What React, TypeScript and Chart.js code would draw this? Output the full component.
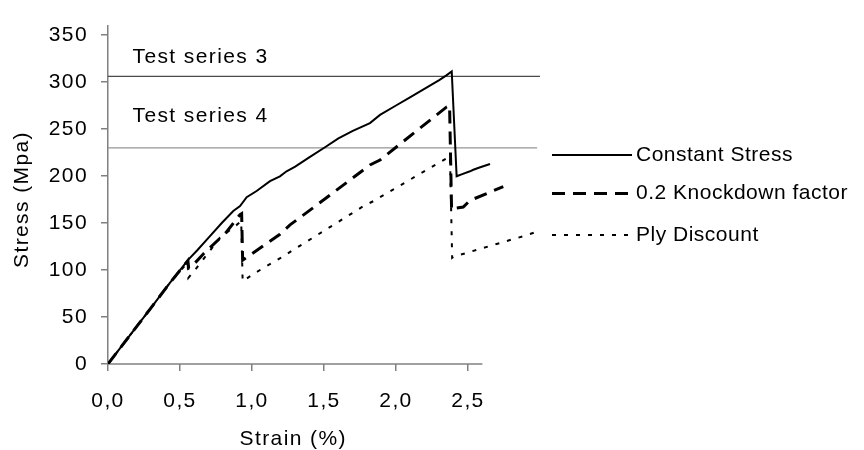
import React, { useEffect, useRef } from "react";
import { Chart, registerables } from "chart.js";

Chart.register(...registerables);

const FONT = "'Liberation Sans', Arial, sans-serif";
const FONT_SIZE = 21;
const SPACING = "1.4px";
const LEGEND_SPACING = "0.5px";
const AXIS_COLOR = "#808080";

// ---- data ----
const CONST_STRAIN = [0, 0.05, 0.1, 0.2, 0.3, 0.431, 0.558, 0.62, 0.708, 0.79, 0.87, 0.917, 0.963, 1.032, 1.125, 1.194, 1.24, 1.3, 1.4, 1.507, 1.6, 1.7, 1.819, 1.889, 2.0, 2.1, 2.2, 2.3, 2.35, 2.387, 2.421, 2.46, 2.514, 2.537, 2.58, 2.653];
const CONST_STRESS = [0, 10, 20, 40, 60, 86.5, 111, 121, 136, 150, 162.7, 168, 177.4, 184, 194.6, 199.7, 205, 210, 220, 230.6, 240, 248, 256.3, 265, 275, 284, 293, 302, 307, 311.2, 199.7, 202, 205, 206.6, 209, 212.8];

const KD_STRAIN = [0, 0.1, 0.2, 0.3, 0.431, 0.555, 0.56, 0.581, 0.662, 0.819, 0.917, 0.928, 0.935, 1.194, 1.264, 1.449, 1.819, 1.889, 2.352, 2.372, 2.386, 2.398, 2.467, 2.514, 2.745];
const KD_STRESS = [0, 20, 40, 60, 86.5, 110, 102, 103.7, 117, 139.7, 159, 160, 110.5, 138, 148, 169, 211.7, 217, 273.5, 275, 164, 165.4, 167, 174, 188.7];

const PLY_STRAIN = [0, 0.1, 0.2, 0.3, 0.431, 0.553, 0.558, 0.604, 0.778, 0.894, 0.925, 0.935, 1.02, 1.229, 1.252, 1.785, 1.854, 1.889, 2.375, 2.39, 2.398, 2.699, 2.907, 2.977];
const PLY_STRESS = [0, 20, 40, 60, 86.5, 108, 91.6, 100, 134.5, 148, 152, 88, 96.8, 115.6, 118, 169, 174, 177.4, 221, 113, 114, 127.7, 137, 140.7];

const SERIES_LABELS = ["Constant Stress", "0.2 Knockdown factor", "Ply Discount"];

const TEST_LEVELS = [306, 230];
const TEST_LABELS = ["Test series 3", "Test series 4"];
const TEST_LABEL_X = [0.17, 0.17];
const TEST_LABEL_Y = [326.4, 263.3];
const TEST_END = [3.0, 2.98];

const X_TICKS = [0, 0.5, 1.0, 1.5, 2.0, 2.5];
const X_TICK_LABELS = ["0,0", "0,5", "1,0", "1,5", "2,0", "2,5"];
const Y_TICKS = [0, 50, 100, 150, 200, 250, 300, 350];

const X_MIN = 0;
const X_MAX = 3.0;
const X_AXIS_END = 2.6;
const Y_MIN = 0;
const Y_MAX = 360;
const X_TITLE = "Strain (%)";
const Y_TITLE = "Stress (Mpa)";

const toPts = (xs: number[], ys: number[]) => xs.map((x, i) => ({ x, y: ys[i] }));

const decor = {
  id: "decor",
  beforeDraw(chart: any) {
    chart.ctx.letterSpacing = SPACING;
  },
  beforeDatasetsDraw(chart: any) {
    const { ctx, chartArea, scales } = chart;
    const x = scales.x;
    ctx.save();
    ctx.strokeStyle = AXIS_COLOR;
    ctx.lineWidth = 1.5;
    ctx.beginPath();
    ctx.moveTo(chartArea.left, chartArea.bottom);
    ctx.lineTo(x.getPixelForValue(X_AXIS_END), chartArea.bottom);
    ctx.stroke();
    ctx.restore();
  },
  afterDraw(chart: any) {
    const { ctx, chartArea, scales } = chart;
    const x = scales.x;
    const y = scales.y;
    ctx.save();
    ctx.letterSpacing = SPACING;
    ctx.font = `${FONT_SIZE}px ${FONT}`;
    ctx.fillStyle = "#000";
    ctx.textBaseline = "middle";
    ctx.textAlign = "left";
    TEST_LABELS.forEach((t, i) => {
      ctx.fillText(t, x.getPixelForValue(TEST_LABEL_X[i]), y.getPixelForValue(TEST_LABEL_Y[i]));
    });
    // axis titles
    ctx.textAlign = "center";
    ctx.fillText(X_TITLE, x.getPixelForValue(X_AXIS_END / 2) - 2, chartArea.bottom + 75);
    ctx.save();
    ctx.translate(22, y.getPixelForValue(175));
    ctx.rotate(-Math.PI / 2);
    ctx.fillText(Y_TITLE, 0, 0);
    ctx.restore();
    // legend
    ctx.letterSpacing = LEGEND_SPACING;
    const rows = [155, 193.5, 235];
    const lx0 = chartArea.right + 12;
    const lx1 = chartArea.right + 92;
    ctx.textAlign = "left";
    for (let i = 0; i < 3; i++) {
      const ds = chart.data.datasets[i];
      ctx.save();
      ctx.strokeStyle = ds.borderColor;
      ctx.lineWidth = ds.borderWidth;
      ctx.setLineDash(ds.borderDash || []);
      ctx.beginPath();
      ctx.moveTo(lx0, rows[i]);
      ctx.lineTo(lx1, rows[i]);
      ctx.stroke();
      ctx.restore();
      ctx.fillText(ds.label, lx1 + 4, rows[i]);
    }
    ctx.restore();
  },
};

export default function App() {
  const ref = useRef<HTMLCanvasElement | null>(null);
  useEffect(() => {
    if (!ref.current) return;
    const chart = new Chart(ref.current, {
      type: "line",
      data: {
        datasets: [
          {
            label: SERIES_LABELS[0],
            data: toPts(CONST_STRAIN, CONST_STRESS),
            borderColor: "#000",
            borderWidth: 2,
            borderDash: [],
            pointRadius: 0,
            tension: 0,
          },
          {
            label: SERIES_LABELS[1],
            data: toPts(KD_STRAIN, KD_STRESS),
            borderColor: "#000",
            borderWidth: 3,
            borderDash: [13, 8],
            pointRadius: 0,
            tension: 0,
          },
          {
            label: SERIES_LABELS[2],
            data: toPts(PLY_STRAIN, PLY_STRESS),
            borderColor: "#000",
            borderWidth: 2,
            borderDash: [4, 8],
            pointRadius: 0,
            tension: 0,
          },
          {
            label: TEST_LABELS[0],
            data: [{ x: 0, y: TEST_LEVELS[0] }, { x: TEST_END[0], y: TEST_LEVELS[0] }],
            borderColor: "#4a4a4a",
            borderWidth: 1.3,
            pointRadius: 0,
          },
          {
            label: TEST_LABELS[1],
            data: [{ x: 0, y: TEST_LEVELS[1] }, { x: TEST_END[1], y: TEST_LEVELS[1] }],
            borderColor: "#959595",
            borderWidth: 1.3,
            pointRadius: 0,
          },
        ],
      },
      options: {
        animation: false,
        responsive: false,
        devicePixelRatio: 1,
        layout: { padding: { left: 0, top: 14, right: 324, bottom: 0 } },
        plugins: { legend: { display: false }, tooltip: { enabled: false }, title: { display: false } },
        scales: {
          x: {
            type: "linear",
            min: X_MIN,
            max: X_MAX,
            afterBuildTicks: (s: any) => {
              s.ticks = X_TICKS.map((value) => ({ value }));
            },
            afterFit: (s: any) => {
              s.height = 86;
            },
            ticks: {
              color: "#000",
              font: { family: FONT, size: FONT_SIZE },
              padding: 18,
              maxRotation: 0,
              autoSkip: false,
              callback: (v: any, i: number) => X_TICK_LABELS[i],
            },
            grid: { drawOnChartArea: false, drawTicks: true, tickLength: 7, color: AXIS_COLOR, lineWidth: 1.5 },
            border: { display: false },
          },
          y: {
            type: "linear",
            min: Y_MIN,
            max: Y_MAX,
            afterBuildTicks: (s: any) => {
              s.ticks = Y_TICKS.map((value) => ({ value }));
            },
            afterFit: (s: any) => {
              s.width = 108;
            },
            ticks: {
              color: "#000",
              font: { family: FONT, size: FONT_SIZE },
              padding: 13,
              autoSkip: false,
            },
            grid: { drawOnChartArea: false, drawTicks: true, tickLength: 7, color: AXIS_COLOR, lineWidth: 1.5 },
            border: { display: true, color: AXIS_COLOR, width: 1.5 },
          },
        },
      },
      plugins: [decor],
    } as any);
    return () => chart.destroy();
  }, []);
  return (
    <div style={{ position: "fixed", left: 0, top: 0, width: 864, height: 450, background: "#fff" }}>
      <canvas ref={ref} width={864} height={450} style={{ display: "block" }} />
    </div>
  );
}
